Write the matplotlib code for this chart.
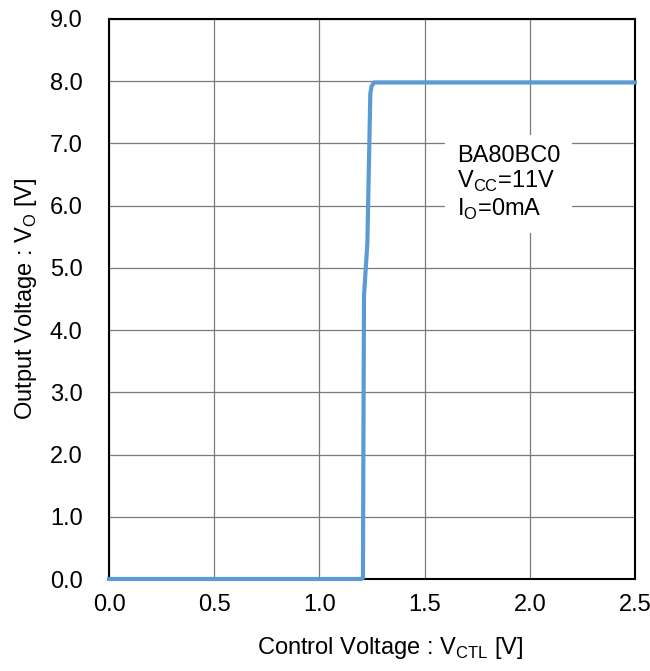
import matplotlib.pyplot as plt

plt.rcParams['font.family'] = ['Liberation Sans', 'DejaVu Sans']
plt.rcParams['mathtext.fontset'] = 'custom'
plt.rcParams['mathtext.rm'] = 'Liberation Sans'

# Control voltage vs output voltage
v_ctl = [0.0, 0.5, 1.0, 1.2, 1.207, 1.209, 1.212, 1.228, 1.242, 1.248, 1.26, 1.5, 2.0, 2.5]
v_out = [0.0, 0.0, 0.0, 0.0, 0.02, 2.0, 4.55, 5.4, 7.8, 7.92, 7.98, 7.98, 7.98, 7.98]

xticks = [0.0, 0.5, 1.0, 1.5, 2.0, 2.5]
yticks = [0.0, 1.0, 2.0, 3.0, 4.0, 5.0, 6.0, 7.0, 8.0, 9.0]

fig = plt.figure(figsize=(6.5, 6.71), dpi=100)
ax = fig.add_axes([0.1677, 0.1371, 0.8092, 0.8346])

ax.plot(v_ctl, v_out, color='#5B9BD5', lw=3, solid_joinstyle='round', zorder=3, clip_on=False)

ax.set_xlim(0, 2.5)
ax.set_ylim(0, 9)
ax.set_xticks(xticks)
ax.set_yticks(yticks)
ax.set_xticklabels([f'{t:.1f}' for t in xticks])
ax.set_yticklabels([f'{t:.1f}' for t in yticks])
ax.tick_params(length=0, labelsize=17)
ax.tick_params(axis='x', pad=11)
ax.tick_params(axis='y', pad=19)
ax.grid(True, color='#7a7a7a', lw=0.9)
for s in ax.spines.values():
    s.set_color('black')
    s.set_linewidth(1.5)
    s.set_zorder(2.5)

ax.set_xlabel(r'Control Voltage : V$_\mathregular{CTL}$ [V]', fontsize=17)
ax.xaxis.set_label_coords(0.534, -0.1)
ax.xaxis.label.set_va('top')
ax.set_ylabel(r'Output Voltage : V$_\mathregular{O}$ [V]', fontsize=17, labelpad=8)

ax.text(1.653, 6.97, 'BA80BC0\n' + r'V$_\mathregular{CC}$=11V' + '\n' + r'I$_\mathregular{O}$=0mA',
        fontsize=17, va='top', ha='left', linespacing=1.1,
        bbox=dict(boxstyle='square,pad=0.5', facecolor='white', edgecolor='none'), zorder=4)

fig.savefig('out.png', dpi=100)
